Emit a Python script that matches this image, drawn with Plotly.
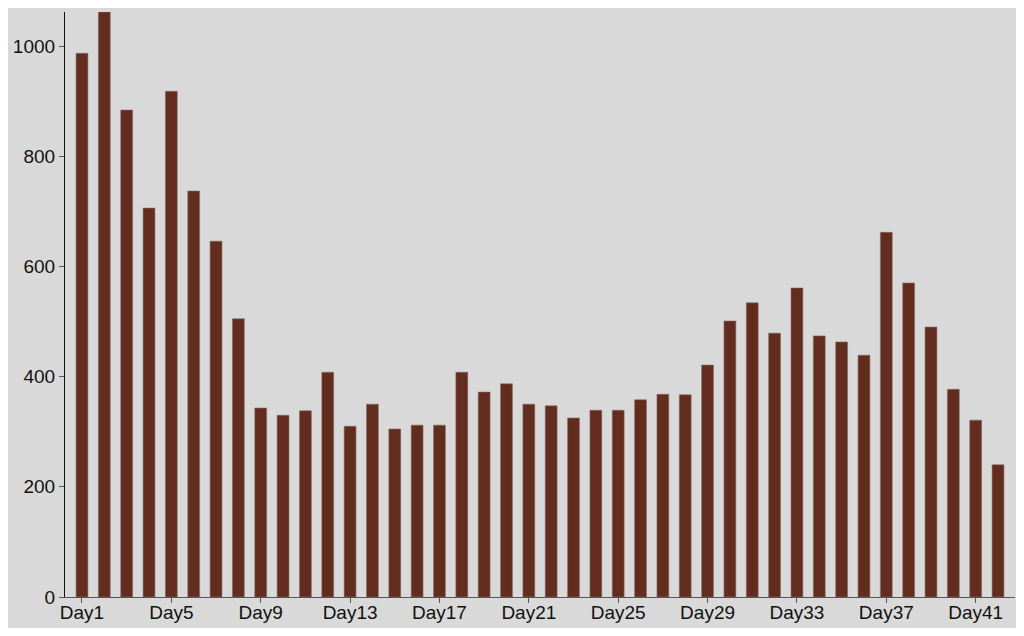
import plotly.graph_objects as go

days = ["Day%d" % i for i in range(1, 43)]
counts = [987, 1062, 884, 706, 918, 737, 646, 505, 343, 330,
          338, 408, 310, 350, 305, 312, 312, 408, 372, 387,
          350, 347, 325, 339, 339, 358, 368, 367, 421, 501,
          534, 479, 561, 474, 463, 439, 662, 570, 490, 377,
          321, 240]
tick_days = days[::4]

fig = go.Figure()
fig.add_trace(go.Bar(x=days, y=counts,
                     marker=dict(color='#622d1f', line=dict(color='#8a6a60', width=0.6))))

# page body has an 8px margin, so the figure is shrunk to fit the window
fig.update_layout(
    width=1008, height=620,
    margin=dict(l=57, r=1, t=4, b=31),
    paper_bgcolor='#d9d9d9',
    plot_bgcolor='#d9d9d9',
    font=dict(family='Liberation Sans, Arial, sans-serif', size=19, color='#111111'),
    bargap=0.47,
    showlegend=False,
)
fig.update_xaxes(range=[-0.76, 41.76], tickmode='array', tickvals=tick_days, ticktext=tick_days,
                 showline=True, linecolor='#555555', linewidth=1.2,
                 ticks='outside', ticklen=5, tickcolor='#555555', showgrid=False,
                 ticklabelstandoff=-7, automargin=False)
fig.update_yaxes(range=[0, 1062], tickvals=[0, 200, 400, 600, 800, 1000],
                 showline=True, linecolor='#111111', linewidth=1.2,
                 ticks='outside', ticklen=5, tickcolor='#555555', showgrid=False, zeroline=False,
                 automargin=False)

fig.write_html("out.html")
